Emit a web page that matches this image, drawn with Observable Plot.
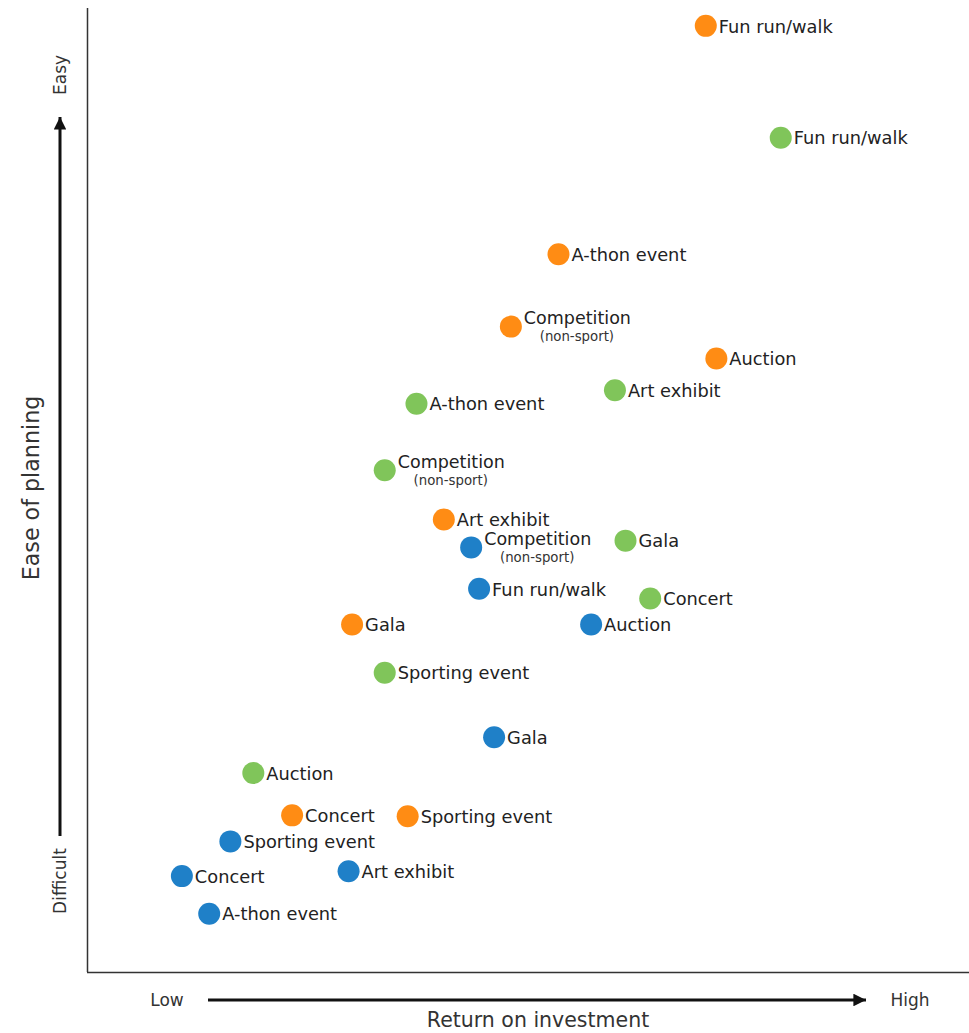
<!DOCTYPE html>
<html>
<head>
<meta charset="utf-8">
<script src="https://cdn.jsdelivr.net/npm/d3@7"></script>
<script src="https://cdn.jsdelivr.net/npm/@observablehq/plot@0.6"></script>
<style>
  html, body { margin: 0; padding: 0; background: #fff; }
  #chart svg { display: block; font-family: "DejaVu Sans", Verdana, sans-serif; }
</style>
</head>
<body>
<div id="chart"></div>
<script>
// Series: three groups of events (shown only by colour in the original)
const groups = ["Group 1", "Group 2", "Group 3"];
const groupColors = ["#FF8C14", "#80C55A", "#1F80C8"];

const group1Events = ["Fun run/walk", "A-thon event", "Competition (non-sport)", "Auction", "Art exhibit", "Gala", "Concert", "Sporting event"];
const group1ROI    = [70.1, 53.4, 48.0, 71.3, 40.4, 30.0, 23.2, 36.3];
const group1Ease   = [98.2, 74.5, 67.0, 63.7, 47.0, 36.1, 16.3, 16.2];

const group2Events = ["Fun run/walk", "Art exhibit", "A-thon event", "Competition (non-sport)", "Gala", "Concert", "Sporting event", "Auction"];
const group2ROI    = [78.6, 59.8, 37.3, 33.7, 61.0, 63.8, 33.7, 18.8];
const group2Ease   = [86.6, 60.4, 59.0, 52.1, 44.8, 38.8, 31.1, 20.7];

const group3Events = ["Competition (non-sport)", "Fun run/walk", "Auction", "Gala", "Sporting event", "Art exhibit", "Concert", "A-thon event"];
const group3ROI    = [43.5, 44.4, 57.1, 46.1, 16.2, 29.6, 10.7, 13.8];
const group3Ease   = [44.1, 39.8, 36.1, 24.4, 13.6, 10.5, 10.0, 6.1];

const axisTexts = { yTitle: "Ease of planning", yLow: "Difficult", yHigh: "Easy",
                    xTitle: "Return on investment", xLow: "Low", xHigh: "High" };

// Build table
const rows = [];
[[group1Events, group1ROI, group1Ease], [group2Events, group2ROI, group2Ease], [group3Events, group3ROI, group3Ease]]
  .forEach(([ev, xs, ys], gi) => ev.forEach((e, i) => {
    const m = e.match(/^(.*?) \((.*)\)$/);
    rows.push({ group: groups[gi], event: e, main: m ? m[1] : e, sub: m ? "(" + m[2] + ")" : null, roi: xs[i], ease: ys[i] });
  }));

const W = 969, H = 1033;
const mL = 87, mR = 0, mT = 8, mB = 61;

const plot = Plot.plot({
  width: W, height: H,
  marginLeft: mL, marginRight: mR, marginTop: mT, marginBottom: mB,
  x: { domain: [0, 100], axis: null },
  y: { domain: [0, 100], axis: null },
  color: { type: "ordinal", domain: groups, range: groupColors },
  style: { fontFamily: "'DejaVu Sans', Verdana, sans-serif", background: "#fff" },
  marks: [
    Plot.ruleX([0], { stroke: "#333", strokeWidth: 1.5 }),
    Plot.ruleY([0], { stroke: "#333", strokeWidth: 1.5 }),
    Plot.dot(rows, { x: "roi", y: "ease", r: 11, fill: "group", stroke: "none" }),
    Plot.text(rows.filter(d => !d.sub), { x: "roi", y: "ease", text: "main", textAnchor: "start", dx: 13, dy: 1, fontSize: 17.8, fill: "#222" }),
    Plot.text(rows.filter(d => d.sub), { x: "roi", y: "ease", text: "main", textAnchor: "start", dx: 13, dy: -8, fontSize: 17.5, fill: "#222" }),
    Plot.text(rows.filter(d => d.sub), { x: "roi", y: "ease", text: "sub", textAnchor: "middle", dx: 66, dy: 10, fontSize: 13.3, fill: "#333" })
  ]
});

document.getElementById("chart").appendChild(plot);

// Axis annotations (arrows and direction labels) drawn around the frame
const svg = d3.select(plot);
const defs = svg.append("defs");
defs.append("marker").attr("id", "arrowhead").attr("viewBox", "0 0 10 10")
  .attr("refX", 10).attr("refY", 5).attr("markerWidth", 4.5).attr("markerHeight", 4.2)
  .attr("markerUnits", "strokeWidth").attr("orient", "auto")
  .append("path").attr("d", "M0,0 L10,5 L0,10 Z").attr("fill", "#111");

const g = svg.append("g").attr("fill", "#333");
// vertical
g.append("line").attr("x1", 60).attr("y1", 836).attr("x2", 60).attr("y2", 117)
  .attr("stroke", "#111").attr("stroke-width", 3).attr("marker-end", "url(#arrowhead)");
g.append("text").attr("transform", "translate(66,75) rotate(-90)").attr("text-anchor", "middle")
  .attr("font-size", 17).text(axisTexts.yHigh);
g.append("text").attr("transform", "translate(66,881) rotate(-90)").attr("text-anchor", "middle")
  .attr("font-size", 17).text(axisTexts.yLow);
g.append("text").attr("transform", "translate(39,488) rotate(-90)").attr("text-anchor", "middle")
  .attr("font-size", 22.2).text(axisTexts.yTitle);
// horizontal
g.append("line").attr("x1", 208).attr("y1", 1000).attr("x2", 866).attr("y2", 1000)
  .attr("stroke", "#111").attr("stroke-width", 3).attr("marker-end", "url(#arrowhead)");
g.append("text").attr("x", 167).attr("y", 1006).attr("text-anchor", "middle")
  .attr("font-size", 17).text(axisTexts.xLow);
g.append("text").attr("x", 910).attr("y", 1006).attr("text-anchor", "middle")
  .attr("font-size", 17).text(axisTexts.xHigh);
g.append("text").attr("x", 538).attr("y", 1027).attr("text-anchor", "middle")
  .attr("font-size", 20.5).text(axisTexts.xTitle);
</script>
</body>
</html>
